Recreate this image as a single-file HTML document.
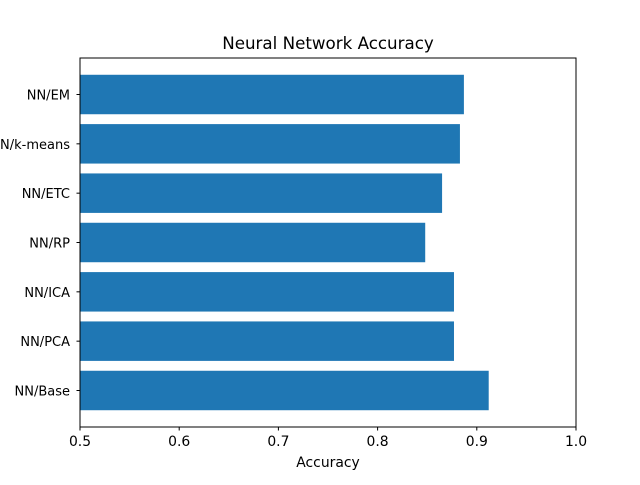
<!DOCTYPE html>
<html><head><meta charset="utf-8"><style>
body{margin:0;background:#fff;}
svg text{font-family:"DejaVu Sans","Liberation Sans",sans-serif;fill:#000;}
</style></head><body>
<svg id="chart" width="640" height="480" xmlns="http://www.w3.org/2000/svg">
<rect width="640" height="480" fill="#fff"/>
<text x="328" y="49" font-size="16.7" text-anchor="middle">Neural Network Accuracy</text>
<g id="bars"></g>
<g id="xticks"></g>
<g id="yticks"></g>
<rect x="80" y="58" width="496" height="369" fill="none" stroke="#000" stroke-width="1"/>
<text x="328" y="467" font-size="13.9" text-anchor="middle">Accuracy</text>
</svg>
<script>
const categories=["NN/Base","NN/PCA","NN/ICA","NN/RP","NN/ETC","NN/k-means","NN/EM"];
const values=[0.912,0.877,0.877,0.848,0.865,0.883,0.887];
const xTickValues=[0.5,0.6,0.7,0.8,0.9,1.0];
const xTickLabels=["0.5","0.6","0.7","0.8","0.9","1.0"];
const NS="http://www.w3.org/2000/svg";
const L=80,R=576,T=58,B=427,xmin=0.5,xmax=1.0;
const ymin=-0.74,ymax=categories.length-1+0.74;
const xs=v=>L+(v-xmin)/(xmax-xmin)*(R-L);
const ys=v=>B-(v-ymin)/(ymax-ymin)*(B-T);
function mk(t,a,p){const e=document.createElementNS(NS,t);for(const k in a)e.setAttribute(k,a[k]);p.appendChild(e);return e;}
const bg=document.getElementById('bars'),xg=document.getElementById('xticks'),yg=document.getElementById('yticks');
categories.forEach((c,i)=>{
  const y0=ys(i+0.4),y1=ys(i-0.4);
  const r=mk('rect',{x:L,y:y0,width:xs(values[i])-L,height:y1-y0,fill:'#1f77b4'},bg);
  
  
  const yc=ys(i);
  mk('line',{x1:L-3.5,x2:L,y1:yc,y2:yc,stroke:'#000'},yg);
  const t=mk('text',{x:L-10,y:yc+5,'font-size':13,'text-anchor':'end'},yg);
  t.textContent=c;
  
  
});
xTickValues.forEach((v,i)=>{
  const x=xs(v);
  mk('line',{x1:x,x2:x,y1:B,y2:B+3.5,stroke:'#000'},xg);
  const t=mk('text',{x:x,y:B+19,'font-size':13.9,'text-anchor':'middle'},xg);
  t.textContent=xTickLabels[i];
  
  
});
</script>
</body></html>
